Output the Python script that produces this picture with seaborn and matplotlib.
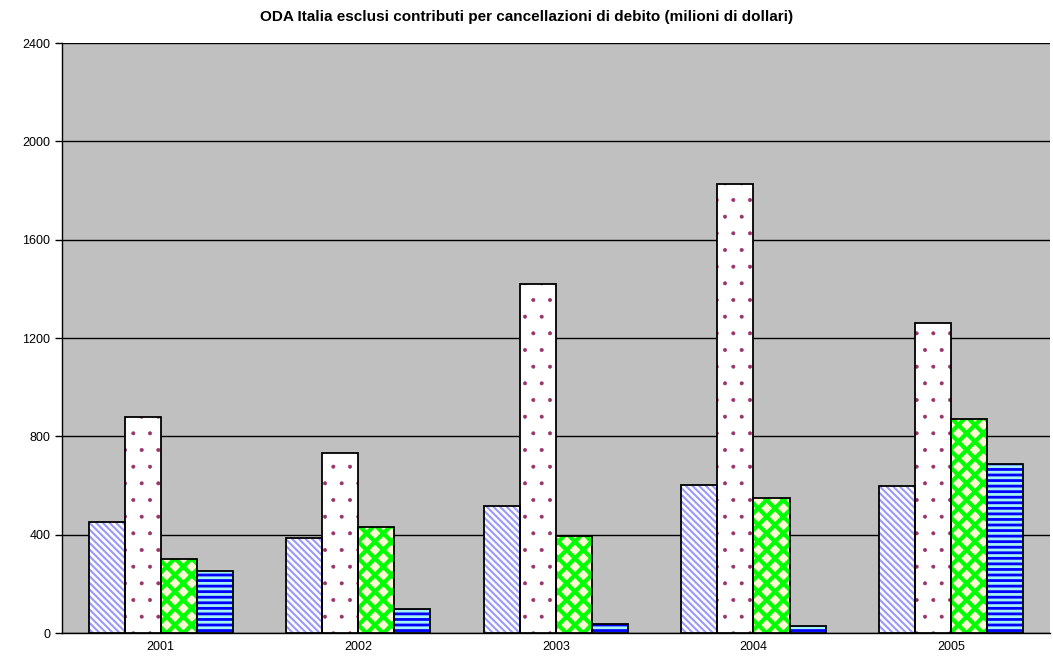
import matplotlib
import numpy as np
import pandas as pd
import seaborn as sns
from matplotlib import pyplot as plt
from matplotlib.patches import Rectangle

matplotlib.use("Agg")

years = ["2001", "2002", "2003", "2004", "2005"]
series = ["Serie 1", "Serie 2", "Serie 3", "Serie 4"]
serie_1 = [452, 387, 517, 602, 600]
serie_2 = [879, 733, 1420, 1827, 1262]
serie_3 = [301, 431, 395, 549, 871]
serie_4 = [252, 98, 37, 28, 688]

fills = ["#ffffff", "#ffffff", "#ffffcc", "#99ffff"]
hatch_colors = ["#9999ff", "#993366", "#00ff00", "#0000ff"]
hatches = ["\\\\\\\\\\", ".", "xx", "---"]
hatch_widths = [1.5, 0.4, 3.0, 2.0]

df = pd.DataFrame({
    "anno": years * 4,
    "serie": [s for s in series for _ in years],
    "valore": serie_1 + serie_2 + serie_3 + serie_4,
})

sns.set_style("white")
plt.rcParams["font.family"] = ["Liberation Sans", "DejaVu Sans"]
plt.rcParams["text.color"] = "black"
plt.rcParams["xtick.color"] = "black"
plt.rcParams["ytick.color"] = "black"

fig = plt.figure(figsize=(10.53, 6.69), dpi=100)
ax = fig.add_axes([0.0589, 0.0538, 0.9381, 0.8819])
ax.set_facecolor("#c0c0c0")

sns.barplot(
    data=df, x="anno", y="valore", hue="serie", ax=ax,
    palette=fills, width=0.73, gap=0, legend=False,
    linewidth=0, errorbar=None,
)

# hatch colour comes from edgecolor, so the black outline is drawn on top
for cont, h, hc, hw in zip(ax.containers, hatches, hatch_colors, hatch_widths):
    for p in cont.patches:
        p.set_hatch(h)
        p.set_edgecolor(hc)
        p.set_linewidth(0)
        if hasattr(p, "set_hatch_linewidth"):
            p.set_hatch_linewidth(hw)
        p.set_zorder(3)
        ax.add_patch(Rectangle(p.get_xy(), p.get_width(), p.get_height(),
                               facecolor="none", edgecolor="black",
                               linewidth=1.3, zorder=4))

ax.set_ylim(0, 2400)
ax.set_yticks(np.arange(0, 2401, 400))
ax.yaxis.grid(True, color="black", linewidth=1)
ax.set_axisbelow(True)
ax.set_xlim(-0.5, 4.5)
ax.set_xticks(np.arange(-0.5, 5, 1), minor=True)
ax.tick_params(axis="x", which="major", length=0, labelsize=9, pad=6)
ax.tick_params(axis="x", which="minor", length=5, width=1, color="black", direction="out")
ax.tick_params(axis="y", length=5, width=1, color="black", direction="out", labelsize=9, left=True)
ax.set_xlabel("")
ax.set_ylabel("")

for side in ["top", "right"]:
    ax.spines[side].set_visible(False)
for side in ["left", "bottom"]:
    ax.spines[side].set_color("black")
    ax.spines[side].set_linewidth(1)

fig.suptitle("ODA Italia esclusi contributi per cancellazioni di debito (milioni di dollari)",
             fontsize=11, fontweight="bold", y=0.985, color="black")

fig.savefig("out.png", dpi=100)
plt.close(fig)
